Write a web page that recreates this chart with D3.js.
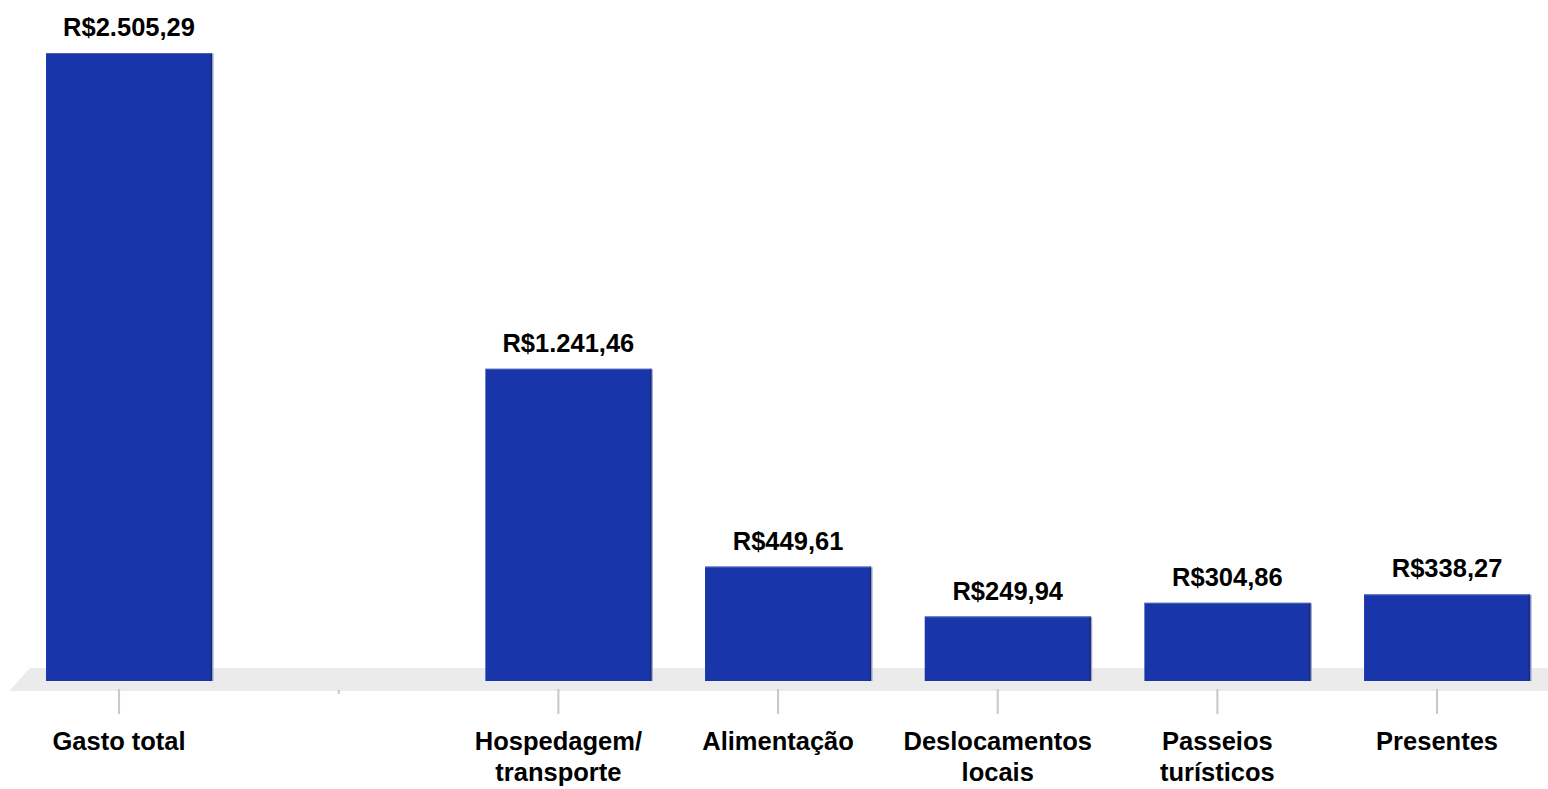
<!DOCTYPE html>
<html><head><meta charset="utf-8">
<script src="https://cdn.jsdelivr.net/npm/d3@7"></script>
<style>
html,body{margin:0;padding:0;background:#fff;}
svg{display:block;font-family:"Liberation Sans",Arial,sans-serif;}
</style></head>
<body><svg id="c" width="1548" height="789"></svg>
<script>
const categories = ["Gasto total", "", "Hospedagem/ transporte", "Alimentação", "Deslocamentos locais", "Passeios turísticos", "Presentes"];
const values = [2505.29, null, 1241.46, 449.61, 249.94, 304.86, 338.27];
const valueLabels = ["R$2.505,29", "", "R$1.241,46", "R$449,61", "R$249,94", "R$304,86", "R$338,27"];
const categoryLines = [["Gasto total"], [""], ["Hospedagem/", "transporte"], ["Alimentação"], ["Deslocamentos", "locais"], ["Passeios", "turísticos"], ["Presentes"]];

const W = 1548, H = 789;
const svg = d3.select("#c");
const zeroY = 679, bottomY = 681, depth = 10, fs = 25.5;

const x = d3.scaleBand().domain(d3.range(categories.length)).range([9.2, 1546.9])
  .paddingInner(0.2443).paddingOuter(0.12215);
const y = d3.scaleLinear().domain([0, 2505.29]).range([zeroY, 53]);

// floor
svg.append("path")
  .attr("d", `M30,668 L${W},668 L${W},691 L9,691 Z`)
  .attr("fill", "#ebebeb");

// bars
const g = svg.append("g");
values.forEach((v, i) => {
  if (v == null) return;
  const x0 = x(i) + depth, w = x.bandwidth();
  const y0 = y(v);
  g.append("rect").attr("x", x0 + w - 0.5).attr("y", y0 + 0.5).attr("width", 2).attr("height", bottomY - y0 - 0.5).attr("fill", "#9aa4cf");
  g.append("rect").attr("x", x0).attr("y", y0).attr("width", w).attr("height", bottomY - y0).attr("fill", "#1835a9");
  g.append("rect").attr("x", x0 + w - 1.5).attr("y", y0).attr("width", 1.5).attr("height", bottomY - y0).attr("fill", "#1b2a78");
  g.append("rect").attr("x", x0).attr("y", y0).attr("width", w).attr("height", 1).attr("fill", "#4a60b8");
  g.append("text").attr("x", x0 + w / 2).attr("y", y0 - 17)
    .attr("text-anchor", "middle").attr("font-weight", "bold").attr("font-size", fs)
    .attr("fill", "#000").text(valueLabels[i]);
});

// axis
const axis = d3.axisBottom(x).tickSize(0).tickFormat("");
const ax = svg.append("g").attr("transform", "translate(0,689)").call(axis);
ax.select(".domain").remove();
ax.selectAll(".tick").each(function(d) {
  const t = d3.select(this);
  const empty = categories[d] === "";
  t.append("line").attr("x1", 0).attr("x2", 0).attr("y1", empty ? 1 : 0).attr("y2", empty ? 5 : 25)
    .attr("stroke", "#c8c8c8").attr("stroke-width", 2);
  const txt = t.append("text").attr("text-anchor", "middle").attr("font-weight", "bold")
    .attr("font-size", fs).attr("fill", "#000")
    .attr("font-family", '"Liberation Sans",Arial,sans-serif');
  categoryLines[d].forEach((line, k) => {
    txt.append("tspan").attr("x", 0).attr("y", 61 + k * 31).text(line);
  });
});
</script></body></html>
